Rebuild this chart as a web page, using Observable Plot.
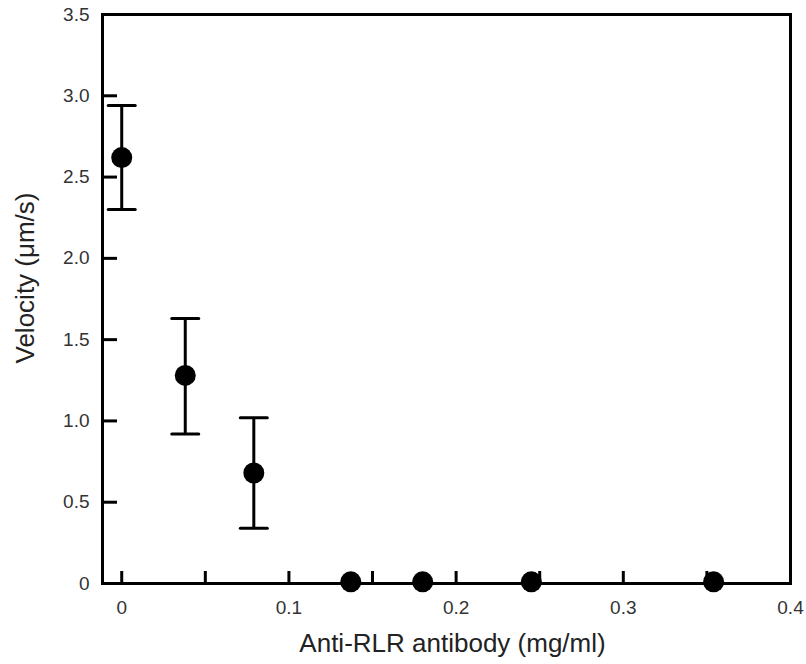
<!DOCTYPE html>
<html>
<head>
<meta charset="utf-8">
<script src="https://cdn.jsdelivr.net/npm/d3@7"></script>
<script src="https://cdn.jsdelivr.net/npm/@observablehq/plot@0.6"></script>
<style>
  html, body { margin: 0; padding: 0; background: #fff; }
  #chart svg { display: block; }
</style>
</head>
<body>
<div id="chart"></div>
<script>
// Data
const concentration = [0, 0.038, 0.079, 0.137, 0.180, 0.245, 0.354];
const velocity      = [2.62, 1.28, 0.68, 0.01, 0.01, 0.01, 0.01];
const errLow        = [2.30, 0.92, 0.34, null, null, null, null];
const errHigh       = [2.94, 1.63, 1.02, null, null, null, null];

const xMajorTicks = [0, 0.1, 0.2, 0.3, 0.4];
const xMinorTicks = [0, 0.05, 0.1, 0.15, 0.2, 0.25, 0.3, 0.35, 0.4];
const yTicks = [0, 0.5, 1.0, 1.5, 2.0, 2.5, 3.0, 3.5];

const xTitle = "Anti-RLR antibody (mg/ml)";
const yTitle = "Velocity (μm/s)";

const data = concentration.map((c, i) => ({
  c, v: velocity[i], lo: errLow[i], hi: errHigh[i]
}));
const errData = data.filter(d => d.lo != null);

const fmt = d => d === 0 ? "0" : d.toFixed(1);

// plain line shape for error-bar caps
const capShape = { draw(context, l) { context.moveTo(0, 0); context.lineTo(0, -l); } };

const chart = Plot.plot({
  width: 806,
  height: 664,
  marginLeft: 102,
  marginRight: 16,
  marginTop: 14,
  marginBottom: 81,
  style: { fontFamily: "'Liberation Sans', Arial, sans-serif", background: "#fff" },
  x: { domain: [-0.0115, 0.4] },
  y: { domain: [0, 3.5] },
  marks: [
    // inward tick marks
    Plot.axisX({ ticks: xMinorTicks, tickSize: -12, tickFormat: () => "", label: null, strokeWidth: 3, stroke: "#000" }),
    Plot.axisY({ ticks: yTicks, tickSize: -15, tickFormat: () => "", label: null, strokeWidth: 3, stroke: "#000" }),
    // tick labels
    Plot.axisX({ ticks: xMajorTicks, tickSize: 0, tickPadding: 17, tickFormat: fmt, label: null, fontSize: 19, fill: "#333", style: "letter-spacing:0.5px" }),
    Plot.axisY({ ticks: yTicks, tickSize: 0, tickPadding: 13, tickFormat: fmt, label: null, fontSize: 19, fill: "#333", style: "letter-spacing:0.5px" }),
    // frame
    Plot.frame({ stroke: "#000", strokeWidth: 3 }),
    // error bars
    Plot.ruleX(errData, { x: "c", y1: "lo", y2: "hi", stroke: "#000", strokeWidth: 3 }),
    Plot.vector(errData, { x: "c", y: "hi", length: 27, rotate: 90, anchor: "middle", shape: capShape, stroke: "#000", strokeWidth: 3 }),
    Plot.vector(errData, { x: "c", y: "lo", length: 27, rotate: 90, anchor: "middle", shape: capShape, stroke: "#000", strokeWidth: 3 }),
    // points
    Plot.dot(data, { x: "c", y: "v", r: 10.5, fill: "#000", stroke: "none" }),
    // axis titles
    Plot.text([xTitle], { text: d => d, frameAnchor: "bottom", dx: 6, dy: 60, fontSize: 26, fill: "#222", textAnchor: "middle", lineAnchor: "middle", style: "letter-spacing:1.6px" }),
    Plot.text([yTitle], { text: d => d, frameAnchor: "left", dx: -77, dy: -21, rotate: -90, fontSize: 26, fill: "#222", textAnchor: "middle", lineAnchor: "middle", style: "letter-spacing:2.5px" })
  ]
});
document.getElementById("chart").appendChild(chart);
</script>
</body>
</html>
